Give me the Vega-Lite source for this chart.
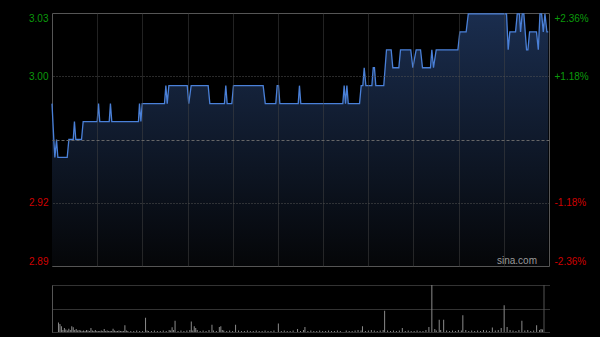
{
  "$schema": "https://vega.github.io/schema/vega-lite/v6.json",
  "background": "#000000",
  "padding": {"left": 11, "top": 10, "right": 5, "bottom": 4},
  "spacing": 17,
  "config": {"axis": {"labelFont": "Liberation Sans", "labelFontSize": 10, "title": null}},
  "datasets": {
    "price": [
      {"t":0,"p":2.98},{"t":1.2,"p":2.96},{"t":1.9,"p":2.95},{"t":3.0,"p":2.96},{"t":3.9,"p":2.95},{"t":10.1,"p":2.95},{"t":11.2,"p":2.96},{"t":14.1,"p":2.96},{"t":14.9,"p":2.97},{"t":15.8,"p":2.96},{"t":19.6,"p":2.96},{"t":20.7,"p":2.97},{"t":30.0,"p":2.97},{"t":30.9,"p":2.98},{"t":31.7,"p":2.97},{"t":38.0,"p":2.97},{"t":38.8,"p":2.98},{"t":39.7,"p":2.97},{"t":57.4,"p":2.97},{"t":58.1,"p":2.98},{"t":59.0,"p":2.97},{"t":59.9,"p":2.98},{"t":74.7,"p":2.98},{"t":75.6,"p":2.99},{"t":76.5,"p":2.98},{"t":77.6,"p":2.99},{"t":89.8,"p":2.99},{"t":90.8,"p":2.98},{"t":92.4,"p":2.99},{"t":103.7,"p":2.99},{"t":104.8,"p":2.98},{"t":114.5,"p":2.98},{"t":115.4,"p":2.99},{"t":116.3,"p":2.98},{"t":119.4,"p":2.98},{"t":120.5,"p":2.99},{"t":140.2,"p":2.99},{"t":141.6,"p":2.98},{"t":148.6,"p":2.98},{"t":149.5,"p":2.99},{"t":150.4,"p":2.99},{"t":151.3,"p":2.98},{"t":163.5,"p":2.98},{"t":164.3,"p":2.99},{"t":165.2,"p":2.98},{"t":193.1,"p":2.98},{"t":194.0,"p":2.99},{"t":194.9,"p":2.98},{"t":195.8,"p":2.99},{"t":196.7,"p":2.98},{"t":204.2,"p":2.98},{"t":205.3,"p":2.99},{"t":206.4,"p":2.99},{"t":207.3,"p":3.00},{"t":208.4,"p":2.99},{"t":212.4,"p":2.99},{"t":213.3,"p":3.00},{"t":214.1,"p":3.00},{"t":215.0,"p":2.99},{"t":220.3,"p":2.99},{"t":222.1,"p":3.01},{"t":225.2,"p":3.01},{"t":226.3,"p":3.00},{"t":230.3,"p":3.00},{"t":231.4,"p":3.01},{"t":238.2,"p":3.01},{"t":239.6,"p":3.00},{"t":241.8,"p":3.01},{"t":244.7,"p":3.01},{"t":246.0,"p":3.00},{"t":251.3,"p":3.00},{"t":252.2,"p":3.01},{"t":253.3,"p":3.00},{"t":255.1,"p":3.01},{"t":269.5,"p":3.01},{"t":270.8,"p":3.02},{"t":275.0,"p":3.02},{"t":276.4,"p":3.03},{"t":301.8,"p":3.03},{"t":302.9,"p":3.01},{"t":304.0,"p":3.02},{"t":307.8,"p":3.02},{"t":308.9,"p":3.03},{"t":310.4,"p":3.03},{"t":311.1,"p":3.02},{"t":312.2,"p":3.03},{"t":313.3,"p":3.03},{"t":315.1,"p":3.01},{"t":316.0,"p":3.01},{"t":317.1,"p":3.02},{"t":321.7,"p":3.02},{"t":322.9,"p":3.01},{"t":324.0,"p":3.03},{"t":325.1,"p":3.03},{"t":326.2,"p":3.02},{"t":327.3,"p":3.03},{"t":328.6,"p":3.02},{"t":329.5,"p":3.02}
    ],
    "vol": [
      {"t":1,"v":9.7},{"t":2,"v":8},{"t":3,"v":5.8},{"t":5,"v":4.1},{"t":8,"v":3.3},{"t":10,"v":5.8},{"t":11,"v":4.8},{"t":13,"v":3},{"t":23,"v":4},{"t":32,"v":3},{"t":38,"v":3.3},{"t":46,"v":6.7},{"t":60,"v":14.3},{"t":78,"v":4.8},{"t":80,"v":11.3},{"t":91,"v":10.7},{"t":93,"v":5.8},{"t":94,"v":4},{"t":105,"v":7.3},{"t":110,"v":5},{"t":111,"v":5.8},{"t":121,"v":7.3},{"t":150,"v":8.7},{"t":163,"v":3},{"t":168,"v":5},{"t":207,"v":5.7},{"t":222,"v":21.6},{"t":234,"v":4},{"t":252,"v":5},{"t":254,"v":47.5},{"t":256,"v":3},{"t":259,"v":12.3},{"t":262,"v":12.3},{"t":275,"v":17},{"t":295,"v":4.5},{"t":301,"v":4},{"t":303,"v":27},{"t":305,"v":5},{"t":315,"v":11.3},{"t":325,"v":6.7},{"t":328,"v":3},
      {"t":4,"v":2},{"t":6,"v":2.5},{"t":7,"v":1.5},{"t":9,"v":2},{"t":12,"v":2},{"t":14,"v":1.5},{"t":15,"v":2},{"t":16,"v":1.5},{"t":17,"v":1},{"t":18,"v":1.5},{"t":19,"v":1},{"t":20,"v":2},{"t":21,"v":1.5},{"t":22,"v":1},{"t":24,"v":1.5},{"t":25,"v":1},{"t":26,"v":2},{"t":27,"v":1},{"t":28,"v":1},{"t":29,"v":1},{"t":30,"v":1.5},{"t":31,"v":1},{"t":33,"v":1},{"t":34,"v":1.5},{"t":35,"v":1},{"t":36,"v":1},{"t":37,"v":1},{"t":39,"v":1.5},{"t":40,"v":1},{"t":41,"v":1},{"t":42,"v":1.5},{"t":43,"v":1},{"t":44,"v":1},{"t":45,"v":1},{"t":47,"v":1.5},{"t":48,"v":1},{"t":50,"v":1},{"t":52,"v":1},{"t":54,"v":1.5},{"t":56,"v":1},{"t":58,"v":1},{"t":61,"v":1.5},{"t":62,"v":1},{"t":64,"v":1},{"t":66,"v":1.5},{"t":68,"v":1},{"t":70,"v":1},{"t":72,"v":1.5},{"t":74,"v":1},{"t":76,"v":2},{"t":77,"v":1.5},{"t":79,"v":2},{"t":82,"v":1},{"t":84,"v":1.5},{"t":86,"v":1},{"t":88,"v":1.5},{"t":90,"v":2},{"t":92,"v":1.5},{"t":95,"v":2},{"t":97,"v":1},{"t":99,"v":1.5},{"t":101,"v":1},{"t":103,"v":2},{"t":106,"v":1.5},{"t":108,"v":1},{"t":112,"v":2},{"t":113,"v":1.5},{"t":115,"v":1},{"t":117,"v":1.5},{"t":119,"v":1},{"t":123,"v":1.5},{"t":125,"v":1},{"t":127,"v":1},{"t":129,"v":1.5},{"t":131,"v":1},{"t":133,"v":1},{"t":135,"v":1.5},{"t":137,"v":1},{"t":139,"v":1},{"t":141,"v":1.5},{"t":143,"v":1},{"t":145,"v":1},{"t":147,"v":1.5},{"t":152,"v":1},{"t":154,"v":1.5},{"t":156,"v":1},{"t":158,"v":1},{"t":160,"v":1.5},{"t":165,"v":1},{"t":167,"v":2},{"t":170,"v":1},{"t":172,"v":1.5},{"t":174,"v":1},{"t":176,"v":1},{"t":178,"v":1.5},{"t":180,"v":1},{"t":182,"v":1},{"t":184,"v":1.5},{"t":186,"v":1},{"t":188,"v":1},{"t":190,"v":1.5},{"t":192,"v":1},{"t":196,"v":1.5},{"t":198,"v":1},{"t":200,"v":1},{"t":202,"v":1.5},{"t":204,"v":2},{"t":206,"v":1.5},{"t":209,"v":1},{"t":211,"v":1.5},{"t":213,"v":2},{"t":215,"v":1.5},{"t":217,"v":1},{"t":219,"v":1.5},{"t":221,"v":2},{"t":224,"v":1.5},{"t":226,"v":1},{"t":228,"v":1.5},{"t":230,"v":1},{"t":232,"v":1.5},{"t":236,"v":1},{"t":238,"v":1.5},{"t":240,"v":1},{"t":242,"v":1},{"t":244,"v":1.5},{"t":246,"v":1},{"t":248,"v":1},{"t":250,"v":2},{"t":257,"v":1.5},{"t":260,"v":2},{"t":264,"v":1.5},{"t":266,"v":1},{"t":268,"v":1.5},{"t":270,"v":1},{"t":272,"v":2},{"t":274,"v":1.5},{"t":277,"v":2},{"t":279,"v":1},{"t":281,"v":1.5},{"t":283,"v":1},{"t":285,"v":1.5},{"t":287,"v":1},{"t":289,"v":2},{"t":291,"v":1.5},{"t":293,"v":1},{"t":297,"v":1.5},{"t":299,"v":2},{"t":307,"v":2},{"t":309,"v":1.5},{"t":311,"v":1},{"t":313,"v":2},{"t":317,"v":1.5},{"t":319,"v":2},{"t":321,"v":1},{"t":323,"v":1.5},{"t":327,"v":2},{"t":329,"v":2.5}
    ]
  },
  "vconcat": [
    {
      "width": 497,
      "height": 253,
      "view": {"stroke": "#555555", "strokeWidth": 1},
      "layer": [
        {
          "data": {"name": "price"},
          "mark": {"type": "area", "color": {"gradient": "linear", "x1": 0, "y1": 0, "x2": 0, "y2": 1, "stops": [{"offset": 0, "color": "#1a2d4e"}, {"offset": 1, "color": "#050608"}]}},
          "encoding": {
            "x": {"field": "t", "type": "quantitative", "scale": {"domain": [0, 330], "nice": false, "zero": false},
                  "axis": {"values": [30,60,90,120,150,180,210,240,270,300], "grid": true, "gridColor": "#444444", "gridDash": [1, 1], "labels": false, "ticks": false, "domain": false, "minExtent": 0, "maxExtent": 0, "zindex": 1}},
            "y": {"field": "p", "type": "quantitative", "scale": {"domain": [2.8895, 3.0305], "nice": false, "zero": false},
                  "axis": {"values": [3.0305, 2.99525, 2.92475, 2.8895], "labelExpr": "datum.value > 3.02 ? '3.03' : datum.value > 2.99 ? '3.00' : datum.value > 2.92 ? '2.92' : '2.89'",
                           "labelColor": {"condition": {"test": "datum.value > 2.96", "value": "#0b9a0b"}, "value": "#d00000"},
                           "labelFlush": true, "labelPadding": 4, "ticks": false, "domain": false, "grid": false, "minExtent": 40, "maxExtent": 40}},
            "y2": {"datum": 2.8895}
          }
        },
        {
          "data": {"name": "price"},
          "mark": {"type": "line", "color": "#4a80d8", "strokeWidth": 1.3},
          "encoding": {
            "x": {"field": "t", "type": "quantitative"},
            "y": {"field": "p", "type": "quantitative", "scale": {"domain": [2.8895, 3.0305], "nice": false, "zero": false}, "axis": null}
          }
        },
        {
          "data": {"values": [{}]},
          "mark": {"type": "text", "text": "sina.com", "color": "#9a9a9a", "font": "Liberation Sans", "fontSize": 10, "align": "right", "baseline": "bottom", "dx": -12, "dy": 0},
          "encoding": {
            "x": {"datum": 330, "type": "quantitative"},
            "y": {"datum": 2.8895, "type": "quantitative", "scale": {"domain": [2.8895, 3.0305], "nice": false, "zero": false}, "axis": null}
          }
        },
        {
          "data": {"name": "price"},
          "mark": {"type": "line", "opacity": 0},
          "encoding": {
            "x": {"field": "t", "type": "quantitative"},
            "y": {"field": "p", "type": "quantitative", "scale": {"domain": [2.8895, 3.0305], "nice": false, "zero": false},
                  "axis": {"orient": "right", "values": [3.0305, 2.99525, 2.96, 2.92475, 2.8895],
                           "labelExpr": "datum.value > 3.02 ? '+2.36%' : datum.value > 2.99 ? '+1.18%' : datum.value > 2.95 ? '' : datum.value > 2.92 ? '-1.18%' : '-2.36%'",
                           "labelColor": {"condition": {"test": "datum.value > 2.96", "value": "#0b9a0b"}, "value": "#d00000"},
                           "labelFlush": true, "labelPadding": 5, "ticks": false, "domain": false,
                           "grid": true, "zindex": 1,
                           "gridOpacity": {"condition": {"test": "datum.value > 3.03 || datum.value < 2.89", "value": 0}, "value": 1},
                           "gridDash": {"condition": {"test": "datum.value > 2.955 && datum.value < 2.965", "value": [3, 2]}, "value": [1, 2]},
                           "gridColor": {"condition": {"test": "datum.value > 2.955 && datum.value < 2.965", "value": "#666666"}, "value": "#555555"},
                           "minExtent": 45, "maxExtent": 45}}
          }
        }
      ],
      "resolve": {"scale": {"y": "independent"}, "axis": {"y": "independent"}}
    },
    {
      "width": 497,
      "height": 47,
      "view": {"stroke": null},
      "layer": [
        {
          "data": {"name": "vol"},
          "mark": {"type": "bar", "width": 1, "color": "#8a8a8a"},
          "encoding": {
            "x": {"field": "t", "type": "quantitative", "scale": {"domain": [0, 330], "nice": false, "zero": false},
                  "axis": {"labels": false, "ticks": false, "grid": false, "domain": true, "domainColor": "#666666", "domainDash": [1, 1], "minExtent": 0, "maxExtent": 0}},
            "y": {"field": "v", "type": "quantitative", "scale": {"domain": [0, 47.5], "nice": false},
                  "axis": {"values": [23.75, 47.5], "labels": false, "ticks": false, "domain": true, "domainColor": "#555555", "grid": true, "gridColor": "#666666", "gridDash": [1, 1], "minExtent": 40, "maxExtent": 40}}
          }
        },
        {
          "data": {"values": [{}]},
          "mark": {"type": "rule", "color": "#555555"},
          "encoding": {"x": {"datum": 330, "type": "quantitative"}}
        }
      ]
    }
  ]
}
